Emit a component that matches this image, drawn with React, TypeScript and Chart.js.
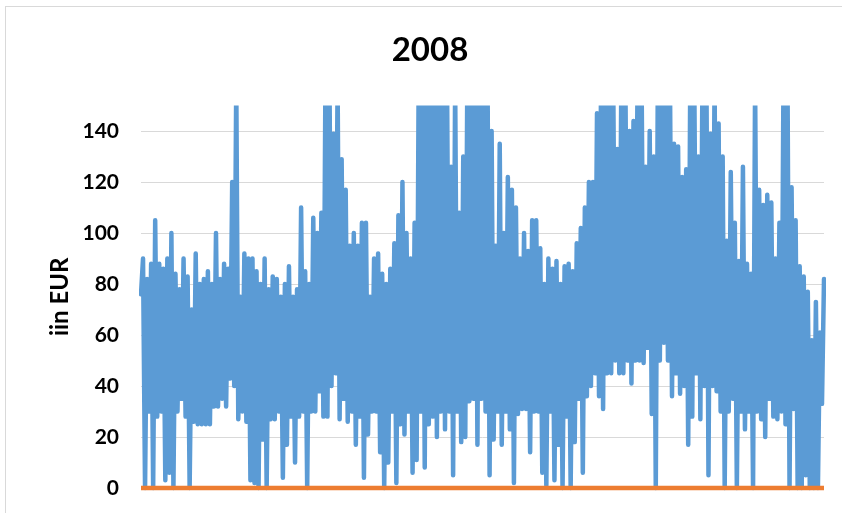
import React, { useEffect, useRef } from "react";
import { Chart, registerables } from "chart.js";

Chart.register(...registerables);

const chartTitle = "2008";
const yAxisTitle = "iin EUR";
const yTicks = [0, 20, 40, 60, 80, 100, 120, 140];
const yMax = 150;

// Price samples (EUR), month by month (alternating highs / lows)
const jan = [76, 90, 0, 82, 30, 88, 0, 105, 28, 88, 30, 86, 3, 90, 6, 100, 0, 84, 30, 78, 35, 90, 28, 83, 0, 70, 26, 92];
const feb = [25, 80, 25, 82, 25, 85, 25, 80, 32, 100, 32, 82, 35, 88, 32, 86, 43, 120, 40, 160, 27, 75, 30, 92, 26, 90, 3, 90];
const mar = [2, 85, 0, 80, 19, 90, 0, 78, 27, 83, 27, 82, 30, 75, 4, 80, 17, 87, 28, 75, 10, 78, 28, 110, 30, 85, 0, 80];
const apr = [30, 106, 30, 100, 38, 108, 28, 160, 28, 160, 40, 139, 45, 160, 27, 129, 35, 117, 26, 95, 30, 100, 17, 95, 28, 104, 4, 104];
const may = [21, 75, 30, 90, 30, 92, 14, 84, 0, 80, 10, 86, 30, 96, 2, 107, 25, 120, 21, 100, 30, 90, 6, 104, 11, 160, 30, 160];
const jun = [8, 160, 25, 160, 28, 160, 20, 160, 30, 160, 23, 160, 30, 126, 5, 160, 30, 108, 18, 130, 20, 160, 34, 160, 35, 160, 17, 160];
const jul = [35, 160, 30, 160, 5, 140, 19, 95, 30, 135, 17, 100, 30, 122, 23, 117, 2, 110, 29, 90, 31, 100, 31, 93, 14, 105, 30, 105];
const aug = [30, 94, 6, 80, 1, 90, 30, 86, 3, 89, 17, 80, 0, 87, 28, 88, 0, 85, 18, 96, 35, 102, 6, 110, 36, 120, 40, 120];
const sep = [45, 147, 36, 160, 31, 160, 45, 160, 45, 160, 50, 133, 45, 160, 45, 160, 50, 140, 41, 144, 50, 160, 50, 160, 49, 126, 55, 140];
const oct = [29, 130, 0, 160, 50, 160, 57, 160, 50, 160, 36, 135, 45, 134, 37, 122, 40, 125, 17, 160, 28, 160, 45, 130, 27, 160, 40, 160];
const nov = [5, 139, 40, 160, 38, 143, 30, 130, 0, 97, 30, 124, 35, 104, 0, 89, 30, 126, 23, 88, 30, 84, 0, 160, 30, 117, 27, 111];
const dec = [20, 115, 35, 112, 28, 90, 27, 104, 30, 160, 25, 160, 0, 118, 31, 105, 0, 87, 0, 83, 5, 77, 0, 58, 0, 73, 0, 61, 33, 82];

const prices: number[] = [...jan, ...feb, ...mar, ...apr, ...may, ...jun, ...jul, ...aug, ...sep, ...oct, ...nov, ...dec];
const secondSeries: number[] = prices.map(() => 0);
const labels: string[] = prices.map((_, i) => String(i + 1));

const PAD_LEFT = 36;

export default function App() {
  const canvasRef = useRef<HTMLCanvasElement | null>(null);

  useEffect(() => {
    document.body.style.margin = "0";
    const canvas = canvasRef.current;
    if (!canvas) return;
    const chart = new Chart(canvas, {
      type: "line",
      data: {
        labels,
        datasets: [
          {
            label: "Series 1",
            data: prices,
            borderColor: "#5B9BD5",
            backgroundColor: "#5B9BD5",
            borderWidth: 4.5,
            pointRadius: 0,
            tension: 0,
            borderJoinStyle: "round",
            borderCapStyle: "round",
            clip: { left: 2, right: 2, top: 0, bottom: 3 },
            order: 1,
          },
          {
            label: "Series 2",
            data: secondSeries,
            borderColor: "#ED7D31",
            backgroundColor: "#ED7D31",
            borderWidth: 4.5,
            pointRadius: 0,
            tension: 0,
            clip: { left: 1, right: 2, top: 0, bottom: 4 },
            order: 0,
          },
        ],
      },
      options: {
        animation: false,
        responsive: false,
        maintainAspectRatio: false,
        layout: { autoPadding: false, padding: { left: PAD_LEFT, right: 18, top: 0, bottom: 25 } },
        plugins: {
          legend: { display: false },
          tooltip: { enabled: false },
          title: {
            display: true,
            text: chartTitle,
            color: "#000000",
            font: { family: "Lato", size: 33, weight: "bold" },
            padding: { top: 31, bottom: 35 },
          },
        },
        scales: {
          x: {
            display: false,
            offset: false,
          },
          y: {
            min: 0,
            max: yMax,
            afterBuildTicks: (scale: any) => {
              scale.ticks = yTicks.map((v) => ({ value: v }));
            },
            afterFit: (scale: any) => {
              scale.width = 141 - PAD_LEFT;
              scale.paddingTop = 0;
              scale.paddingBottom = 0;
            },
            border: { display: false },
            grid: { color: "#d9d9d9", lineWidth: 1, drawTicks: false },
            ticks: {
              color: "#000000",
              font: { family: "Lato", size: 21, weight: "bold" },
              padding: 22,
            },
            title: {
              display: true,
              text: yAxisTitle,
              color: "#000000",
              font: { family: "Lato", size: 24, weight: "bold" },
              padding: { top: 10, bottom: 0 },
            },
          },
        },
      },
    });
    return () => chart.destroy();
  }, []);

  return (
    <div style={{ position: "relative", width: 842, height: 513, overflow: "hidden", background: "#ffffff" }}>
      <div
        style={{
          position: "absolute",
          left: 5,
          top: 6,
          width: 860,
          height: 540,
          border: "1px solid #d9d9d9",
          boxSizing: "border-box",
        }}
      />
      <canvas ref={canvasRef} width={842} height={513} style={{ position: "absolute", left: 0, top: 0, width: 842, height: 513 }} />
    </div>
  );
}
